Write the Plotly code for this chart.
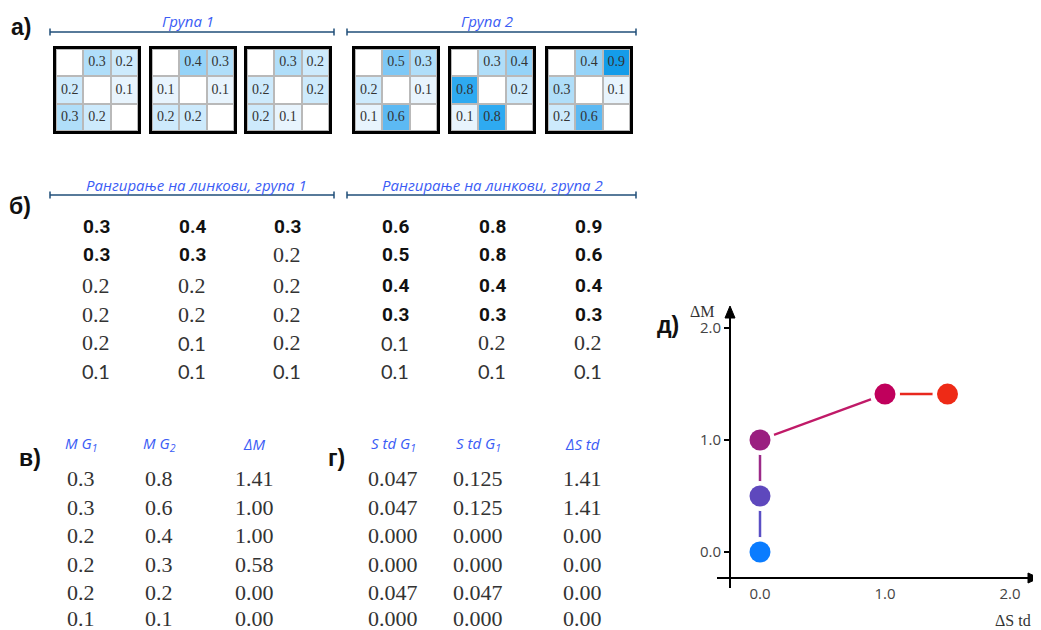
import plotly.graph_objects as go

W, H = 1041, 630
OFF = 8  # page body margin in the browser

# ------------------------- data -------------------------
group_titles = ["Група 1", "Група 2"]
rank_titles = ["Рангирање на линкови, група 1", "Рангирање на линкови, група 2"]
section_labels = ["а)", "б)", "в)", "г)", "д)"]

group1_matrices = [
    [[None, 0.3, 0.2], [0.2, None, 0.1], [0.3, 0.2, None]],
    [[None, 0.4, 0.3], [0.1, None, 0.1], [0.2, 0.2, None]],
    [[None, 0.3, 0.2], [0.2, None, 0.2], [0.2, 0.1, None]],
]
group2_matrices = [
    [[None, 0.5, 0.3], [0.2, None, 0.1], [0.1, 0.6, None]],
    [[None, 0.3, 0.4], [0.8, None, 0.2], [0.1, 0.8, None]],
    [[None, 0.4, 0.9], [0.3, None, 0.1], [0.2, 0.6, None]],
]

ranked_group1 = [
    [0.3, 0.3, 0.2, 0.2, 0.2, 0.1],
    [0.4, 0.3, 0.2, 0.2, 0.1, 0.1],
    [0.3, 0.2, 0.2, 0.2, 0.2, 0.1],
]
ranked_group2 = [
    [0.6, 0.5, 0.4, 0.3, 0.1, 0.1],
    [0.8, 0.8, 0.4, 0.3, 0.2, 0.1],
    [0.9, 0.6, 0.4, 0.3, 0.2, 0.1],
]

mean_headers = ["M G<sub>1</sub>", "M G<sub>2</sub>", "ΔM"]
mean_g1 = [0.3, 0.3, 0.2, 0.2, 0.2, 0.1]
mean_g2 = [0.8, 0.6, 0.4, 0.3, 0.2, 0.1]
delta_mean = [1.41, 1.00, 1.00, 0.58, 0.00, 0.00]

std_headers = ["S td G<sub>1</sub>", "S td G<sub>1</sub>", "ΔS td"]
std_g1 = [0.047, 0.047, 0.000, 0.000, 0.047, 0.000]
std_g2 = [0.125, 0.125, 0.000, 0.000, 0.047, 0.000]
delta_std = [1.41, 1.41, 0.00, 0.00, 0.00, 0.00]

scatter_dstd = [0.0, 0.0, 0.0, 1.0, 1.5]
scatter_dm = [0.0, 0.5, 1.0, 1.41, 1.41]
marker_colors = ["#0a7cff", "#5e48bd", "#9a1f80", "#c0005c", "#ee2a16"]
segment_colors = ["#5a4fc4", "#9c2a88", "#c01a68", "#e8281e"]
axis_ticks = [0.0, 1.0, 2.0]

heat_levels = [0, 0.1, 0.2, 0.3, 0.4, 0.5, 0.6, 0.8, 0.9]
heat_colors = ["#ffffff", "#e8f4fd", "#cdeafc", "#b0def9", "#95d3f8",
               "#7ec8f6", "#5cb9f3", "#2eaaf1", "#149ce9"]

# ------------------------- helpers -------------------------
FW, FH = W - OFF, H - OFF


def px(x):
    return (x - OFF) / FW


def py(y):
    return 1 - (y - OFF) / FH


annotations = []
shapes = []


def txt(x, y, s, size=14, family="Liberation Sans", color="#222",
        xanchor="center", yanchor="middle"):
    annotations.append(dict(x=px(x), y=py(y), xref="paper", yref="paper",
                            text=s, showarrow=False, xanchor=xanchor,
                            yanchor=yanchor,
                            font=dict(size=size, family=family, color=color)))


def bracket(x0, x1, y, color="#1f4e79"):
    shapes.append(dict(type="line", xref="paper", yref="paper",
                       x0=px(x0), x1=px(x1), y0=py(y), y1=py(y),
                       line=dict(color=color, width=1.5)))
    for xx in (x0, x1):
        shapes.append(dict(type="line", xref="paper", yref="paper",
                           x0=px(xx), x1=px(xx), y0=py(y - 3.5), y1=py(y + 3.5),
                           line=dict(color=color, width=1.5)))


def triangle(points):
    d = "M " + " L ".join(f"{px(a)},{py(b)}" for a, b in points) + " Z"
    shapes.append(dict(type="path", xref="paper", yref="paper", path=d,
                       fillcolor="black", line=dict(color="black", width=1)))


fig = go.Figure()
layout = {}

# ------------------------- а) heat matrices -------------------------
colorscale = [[v / heat_levels[-1], c] for v, c in zip(heat_levels, heat_colors)]
mat_lefts = [54, 150, 245, 353, 449, 546]
mat_top = 47
mat_size = 86
all_mats = group1_matrices + group2_matrices
for i, m in enumerate(all_mats):
    k = i + 1
    xn = "x" if k == 1 else f"x{k}"
    yn = "y" if k == 1 else f"y{k}"
    z = [[0 if v is None else v for v in row] for row in m]
    fig.add_trace(go.Heatmap(
        z=z, colorscale=colorscale, zmin=0, zmax=heat_levels[-1], showscale=False,
        xgap=2, ygap=2, hoverinfo="skip", xaxis=xn, yaxis=yn))
    cx, cy, ct = [], [], []
    for r, row in enumerate(m):
        for c, v in enumerate(row):
            if v is not None:
                cx.append(c)
                cy.append(r)
                ct.append(f"{v:.1f}")
    fig.add_trace(go.Scatter(
        x=cx, y=cy, text=ct, mode="text", hoverinfo="skip", showlegend=False,
        textfont=dict(family="Liberation Serif", size=14, color="#333"),
        xaxis=xn, yaxis=yn))
    l = mat_lefts[i]
    layout[f"xaxis{k}"] = dict(domain=[px(l + 2), px(l + mat_size - 2)],
                               range=[-0.5, 2.5], showgrid=False, zeroline=False,
                               showticklabels=False, ticks="", showline=True,
                               mirror=True, linecolor="black", linewidth=3,
                               anchor=yn)
    layout[f"yaxis{k}"] = dict(domain=[py(mat_top + mat_size - 2), py(mat_top + 2)],
                               range=[2.5, -0.5], showgrid=False, zeroline=False,
                               showticklabels=False, ticks="", showline=True,
                               mirror=True, linecolor="black", linewidth=3,
                               anchor=xn)
    shapes.append(dict(type="rect", xref=f"{xn} domain", yref=f"{yn} domain",
                       x0=0, x1=1, y0=0, y1=1, fillcolor="#b9b9b9",
                       line=dict(width=0), layer="below"))

header_color = "#3b5cf5"
txt(188, 21, "<i>" + group_titles[0] + "</i>", 15, "Open Sans", header_color)
txt(487, 21, "<i>" + group_titles[1] + "</i>", 15, "Open Sans", header_color)
bracket(50, 334, 32)
bracket(347, 636, 32)

# ------------------------- б) ranked values -------------------------
txt(196, 185, "<i>" + rank_titles[0] + "</i>", 15, "Open Sans", header_color)
txt(492, 185, "<i>" + rank_titles[1] + "</i>", 15, "Open Sans", header_color)
bracket(50, 334, 195)
bracket(347, 636, 195)

rank_rows = [226, 255, 285, 314, 343, 371]
rank_cols = [96, 192, 287, 395, 492, 588]


def ranked_text(v):
    if v >= 0.3:
        return f"<b>{v:.1f}</b>", 19, "Roboto", "#111"
    if v >= 0.2:
        return f"{v:.1f}", 22, "Liberation Serif", "#333"
    return f"{v:.1f}", 20, "Lato", "#333"


for ci, col in enumerate(ranked_group1 + ranked_group2):
    for ri, v in enumerate(col):
        s, size, fam, colr = ranked_text(v)
        txt(rank_cols[ci], rank_rows[ri], s, size, fam, colr)

# ------------------------- в) and г) tables -------------------------
table_rows = [478, 507, 535, 564, 592, 618]
mean_cols = [81, 159, 254]
std_cols = [393, 478, 582]
for x, h in zip(mean_cols, mean_headers):
    txt(x, 444, "<i>" + h + "</i>", 15, "Open Sans", header_color)
for x, h in zip(std_cols, std_headers):
    txt(x, 444, "<i>" + h + "</i>", 15, "Open Sans", header_color)

for r in range(len(mean_g1)):
    y = table_rows[r]
    txt(mean_cols[0], y, f"{mean_g1[r]:.1f}", 22, "Liberation Serif", "#333")
    txt(mean_cols[1], y, f"{mean_g2[r]:.1f}", 22, "Liberation Serif", "#333")
    txt(mean_cols[2], y, f"{delta_mean[r]:.2f}", 22, "Liberation Serif", "#333")
    txt(std_cols[0], y, f"{std_g1[r]:.3f}", 22, "Liberation Serif", "#333")
    txt(std_cols[1], y, f"{std_g2[r]:.3f}", 22, "Liberation Serif", "#333")
    txt(std_cols[2], y, f"{delta_std[r]:.2f}", 22, "Liberation Serif", "#333")

# ------------------------- section labels -------------------------
label_pos = [(21, 27), (20, 206), (30, 458), (336, 458), (668, 325)]
for (x, y), s in zip(label_pos, section_labels):
    txt(x, y, "<b>" + s + "</b>", 23, "Liberation Sans", "#111")

# ------------------------- д) scatter -------------------------
for i in range(len(scatter_dstd) - 1):
    fig.add_trace(go.Scatter(
        x=scatter_dstd[i:i + 2], y=scatter_dm[i:i + 2], mode="lines",
        line=dict(color=segment_colors[i], width=2.5),
        hoverinfo="skip", showlegend=False, xaxis="x7", yaxis="y7"))
fig.add_trace(go.Scatter(
    x=scatter_dstd, y=scatter_dm, mode="markers",
    marker=dict(size=30, color="white"), hoverinfo="skip",
    showlegend=False, xaxis="x7", yaxis="y7"))
fig.add_trace(go.Scatter(
    x=scatter_dstd, y=scatter_dm, mode="markers",
    marker=dict(size=21, color=marker_colors), showlegend=False,
    xaxis="x7", yaxis="y7"))

# axis geometry (pixels): y axis at x=731, x axis at y=577
x0_px, x_unit = 760, 125.0
y0_px, y_unit = 552, 112.0
left_px, right_px, bottom_px, top_px = 731, 1030, 577, 312
layout["xaxis7"] = dict(
    domain=[px(left_px), px(right_px)],
    range=[(left_px - x0_px) / x_unit, (right_px - x0_px) / x_unit],
    showgrid=False, zeroline=False, showline=True, linecolor="black",
    linewidth=2, ticks="", tickvals=axis_ticks,
    ticktext=[f"{v:.1f}" for v in axis_ticks], ticklabelstandoff=2,
    tickfont=dict(family="Open Sans", size=15, color="#444"), anchor="y7")
layout["yaxis7"] = dict(
    domain=[py(bottom_px), py(top_px)],
    range=[(y0_px - bottom_px) / y_unit, (y0_px - top_px) / y_unit],
    showgrid=False, zeroline=False, showline=True, linecolor="black",
    linewidth=2, ticks="outside", ticklen=5, tickwidth=1.5, tickcolor="black",
    tickvals=axis_ticks, ticktext=[f"{v:.1f}" for v in axis_ticks],
    tickfont=dict(family="Open Sans", size=15, color="#444"), anchor="x7")

# axis overshoots and arrowheads
shapes.append(dict(type="line", xref="paper", yref="paper",
                   x0=px(717), x1=px(left_px), y0=py(bottom_px + 1), y1=py(bottom_px + 1),
                   line=dict(color="black", width=2)))
shapes.append(dict(type="line", xref="paper", yref="paper",
                   x0=px(left_px - 1), x1=px(left_px - 1), y0=py(bottom_px), y1=py(588),
                   line=dict(color="black", width=2)))
shapes.append(dict(type="line", xref="paper", yref="paper",
                   x0=px(right_px - 2), x1=px(1030), y0=py(bottom_px + 1), y1=py(bottom_px + 1),
                   line=dict(color="black", width=2)))
triangle([(1039, bottom_px + 1), (1028, bottom_px - 4), (1028, bottom_px + 6)])
triangle([(left_px - 1, 306), (left_px - 6, 318), (left_px + 4, 318)])
txt(702, 311, "ΔM", 16, "Liberation Serif", "#333")
txt(1013, 620, "ΔS td", 16, "Liberation Serif", "#333")

fig.update_layout(
    width=FW, height=FH, margin=dict(l=0, r=0, t=0, b=0),
    paper_bgcolor="white", plot_bgcolor="white", showlegend=False,
    annotations=annotations, shapes=shapes, **layout)

fig.write_html("out.html")
